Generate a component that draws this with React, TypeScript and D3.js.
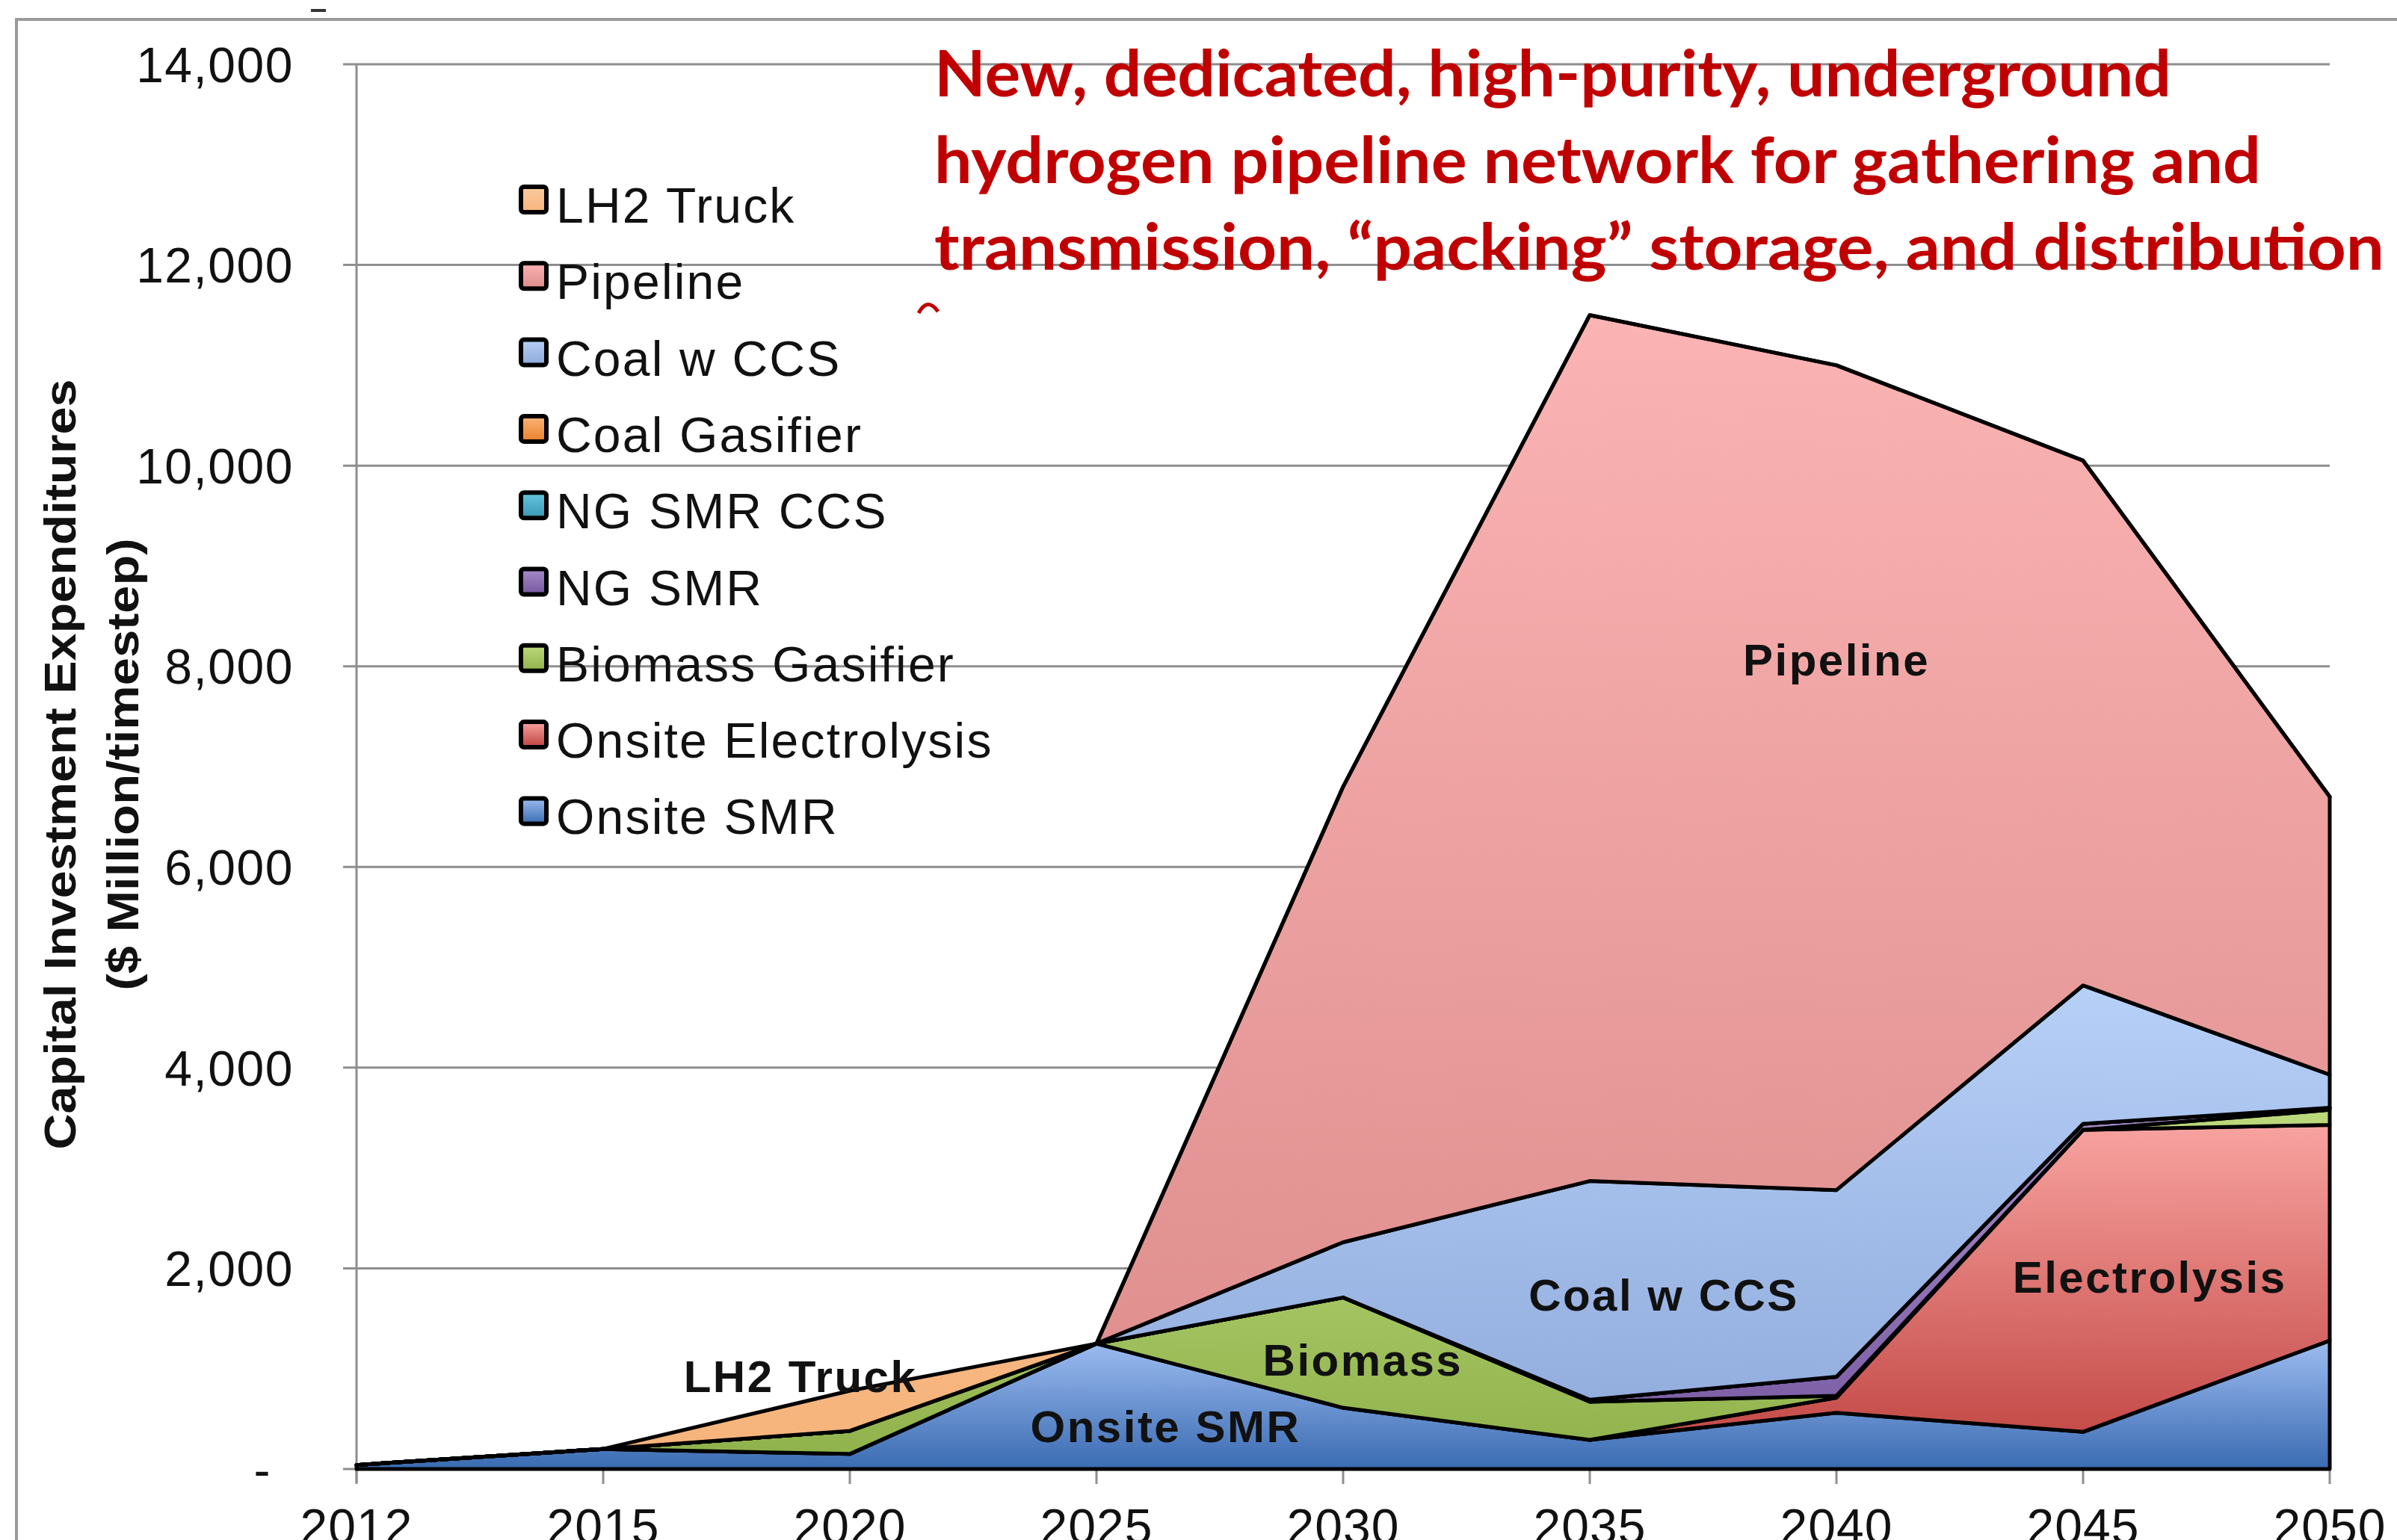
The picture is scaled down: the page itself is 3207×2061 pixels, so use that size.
import { useEffect } from 'react';
import * as d3 from 'd3';

// categories (equally spaced time steps)
const years = ['2012', '2015', '2020', '2025', '2030', '2035', '2040', '2045', '2050'];

// series values, $ Million per timestep
const onsiteSMR = [40, 200, 150, 1250, 610, 290, 560, 370, 1280];
const onsiteElectrolysis = [0, 0, 0, 0, 0, 0, 150, 3010, 2150];
const biomassGasifier = [0, 0, 230, 0, 1100, 380, 20, 0, 150];
const ngSMR = [0, 0, 0, 0, 0, 20, 190, 60, 20];
const ngSMRCCS = [0, 0, 0, 0, 0, 0, 0, 0, 0];
const coalGasifier = [0, 0, 0, 0, 0, 0, 0, 0, 0];
const coalCCS = [0, 0, 0, 0, 550, 2180, 1860, 1380, 330];
const pipeline = [0, 0, 0, 0, 4540, 8630, 8220, 5230, 2770];
const lh2Truck = [0, 0, 400, 0, 0, 0, 0, 0, 0];

// stacking order, bottom first
const seriesNames = [
  'Onsite SMR',
  'Onsite Electrolysis',
  'Biomass Gasifier',
  'NG SMR',
  'NG SMR CCS',
  'Coal Gasifier',
  'Coal w CCS',
  'Pipeline',
  'LH2 Truck',
];
const seriesValues = [
  onsiteSMR, onsiteElectrolysis, biomassGasifier, ngSMR, ngSMRCCS,
  coalGasifier, coalCCS, pipeline, lh2Truck,
];

const yTicks = [0, 2000, 4000, 6000, 8000, 10000, 12000, 14000];

const titleLines = [
  'New, dedicated, high-purity, underground',
  'hydrogen pipeline network for gathering and',
  'transmission, \u201cpacking\u201d storage, and distribution',
];

// in-chart labels: [text, position along the time axis (index), value]
const areaLabels: [string, number, number][] = [
  ['Pipeline', 6.0, 8070],
  ['Coal w CCS', 5.3, 1740],
  ['Electrolysis', 7.27, 1920],
  ['Biomass', 4.08, 1090],
  ['Onsite SMR', 3.28, 430],
  ['LH2 Truck', 1.8, 930],
];

// gradient stops per series [top, bottom]
const gradients: Record<string, [string, string]> = {
  'Onsite SMR': ['#9dbcf0', '#3a6bb2'],
  'Onsite Electrolysis': ['#f8a3a0', '#bf423f'],
  'Biomass Gasifier': ['#bcd97c', '#8fb14a'],
  'NG SMR': ['#a58bc8', '#7657a0'],
  'NG SMR CCS': ['#66c6e0', '#3898b4'],
  'Coal Gasifier': ['#fbb678', '#e97f2c'],
  'Coal w CCS': ['#b6d0f8', '#8ea8da'],
  'Pipeline': ['#fbb3b3', '#dc8c8b'],
  'LH2 Truck': ['#fcc99c', '#f6b47c'],
};

type Row = { [k: string]: number };

const App = () => {
  useEffect(() => {
    document.body.style.margin = '0';
    document.body.style.overflow = 'hidden';
  }, []);

  const width = 3207;
  const height = 2061;

  const x = d3.scaleLinear().domain([0, years.length - 1]).range([477, 3117]);
  const y = d3.scaleLinear().domain([0, 14000]).range([1966, 86]);

  const rows: Row[] = years.map((_, i) => {
    const r: Row = {};
    seriesNames.forEach((n, j) => { r[n] = seriesValues[j][i]; });
    return r;
  });

  const stacked = d3.stack<Row>().keys(seriesNames)(rows);

  const area = d3.area<d3.SeriesPoint<Row>>()
    .x((_, i) => x(i))
    .y0(d => y(d[0]))
    .y1(d => y(d[1]));

  const gid = (n: string) => 'g-' + n.replace(/\s+/g, '-');
  const font = "'Liberation Sans', Arial, sans-serif";
  const legendItems = [...seriesNames].reverse();
  const titleWidths = [1655, 1775, 1940];

  return (
    <svg width={width} height={height} style={{ display: 'block', background: '#fff' }}>
      <defs>
        {seriesNames.map(n => (
          <linearGradient key={n} id={gid(n)} x1="0" y1="0" x2="0" y2="1">
            <stop offset="0%" stopColor={gradients[n][0]} />
            <stop offset="100%" stopColor={gradients[n][1]} />
          </linearGradient>
        ))}
      </defs>

      {/* outer chart frame */}
      <path d={`M22,${height + 10} L22,26 L${width + 10},26`} fill="none" stroke="#9a9a9a" strokeWidth={4} />
      <line x1={416} x2={436} y1={14} y2={14} stroke="#333" strokeWidth={4} />

      {/* gridlines */}
      {yTicks.map(t => (
        <line key={t} x1={459} x2={3117} y1={y(t)} y2={y(t)} stroke="#8e8e8e" strokeWidth={3} />
      ))}
      <line x1={x(0)} x2={x(0)} y1={y(14000)} y2={y(0) + 18} stroke="#8e8e8e" strokeWidth={3} />
      {years.map((yr, i) => (
        <line key={yr} x1={x(i)} x2={x(i)} y1={y(0)} y2={y(0) + 20} stroke="#8e8e8e" strokeWidth={3} />
      ))}

      {/* stacked areas */}
      {stacked.map(s => (
        <path
          key={s.key}
          d={area(s) || ''}
          fill={`url(#${gid(s.key)})`}
          stroke="#000"
          strokeWidth={5}
          strokeLinejoin="round"
        />
      ))}

      {/* y tick labels */}
      {yTicks.map(t => (
        <text
          key={t}
          x={393}
          dx={t === 0 ? -30 : 0}
          y={y(t)}
          dy="0.36em"
          textAnchor="end"
          fontFamily={font}
          fontSize={66}
          letterSpacing={1.5}
          fill="#111"
        >
          {t === 0 ? '-' : d3.format(',')(t)}
        </text>
      ))}

      {/* x tick labels */}
      {years.map((yr, i) => (
        <text key={yr} x={x(i)} y={2066} textAnchor="middle" fontFamily={font} fontSize={66} letterSpacing={1} fill="#111">
          {yr}
        </text>
      ))}

      {/* y axis title */}
      <g transform="translate(80,1023) rotate(-90)" fontFamily={font} fontWeight="bold" fill="#111" textAnchor="middle">
        <text x={0} y={0} dy="0.35em" fontSize={60} textLength={1031} lengthAdjust="spacingAndGlyphs">
          Capital Investment Expenditures
        </text>
        <text x={0} y={84} dy="0.35em" fontSize={60} textLength={605} lengthAdjust="spacingAndGlyphs">
          ($ Million/timestep)
        </text>
      </g>

      {/* legend */}
      {legendItems.map((n, i) => (
        <g key={n} transform={`translate(697,${298 + i * 102.3})`}>
          <rect x={0} y={-48} width={34} height={34} rx={4} fill={`url(#${gid(n)})`} stroke="#000" strokeWidth={6} />
          <text x={47} y={0} fontFamily={font} fontSize={66} letterSpacing={2.2} fill="#111">
            {n}
          </text>
        </g>
      ))}

      {/* area labels */}
      {areaLabels.map(([t, xi, v]) => (
        <text
          key={t}
          x={x(xi)}
          y={y(v)}
          dy="0.36em"
          textAnchor="middle"
          fontFamily={font}
          fontWeight="bold"
          fontSize={60}
          letterSpacing={2.5}
          fill="#111"
        >
          {t}
        </text>
      ))}

      {/* red annotation */}
      {titleLines.map((t, i) => (
        <text
          key={i}
          x={1250}
          y={129 + i * 116}
          fontFamily="Lato, 'Open Sans', sans-serif"
          fontWeight="bold"
          fontSize={86}
          fill="#c00000"
          textLength={titleWidths[i]}
          lengthAdjust="spacingAndGlyphs"
        >
          {t}
        </text>
      ))}
      <path d="M1229,419 Q1241,397 1255,417" fill="none" stroke="#c00000" strokeWidth={5} />
    </svg>
  );
};

export default App;
